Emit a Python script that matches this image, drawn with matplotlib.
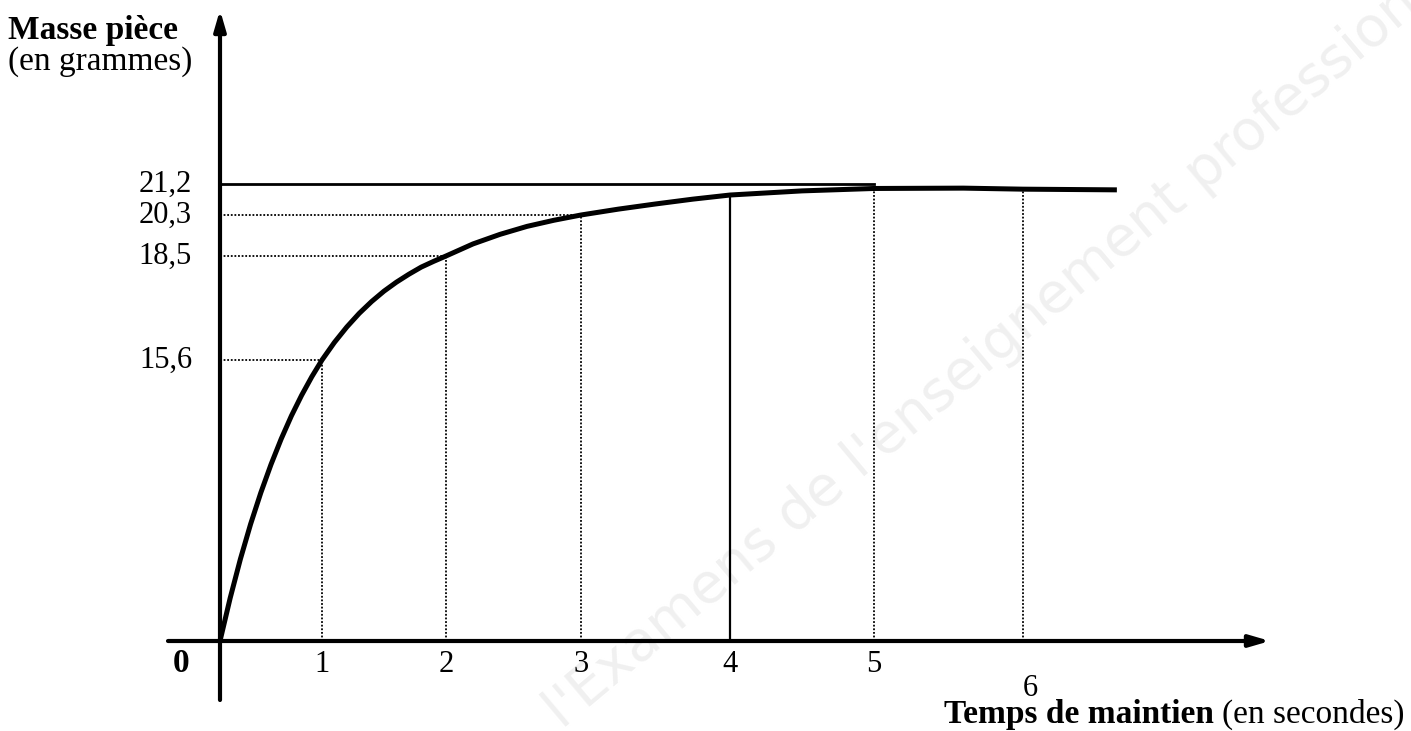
import numpy as np
import matplotlib
matplotlib.use("Agg")
import matplotlib.pyplot as plt

# ---------------- data ----------------
time_s = [0.0, 0.1, 0.2, 0.3, 0.4, 0.5, 0.6, 0.7, 0.8, 0.9, 1.0,
          1.1, 1.2, 1.3, 1.4, 1.5, 1.6, 1.7, 1.8, 1.9, 2.0,
          2.2, 2.4, 2.6, 2.8, 3.0, 3.25, 3.5, 3.75, 4.0, 4.5, 5.0, 5.6, 6.0, 6.63]
mass_g = [0.0, 2.39, 4.55, 6.49, 8.23, 9.80, 11.22, 12.50, 13.64, 14.67, 15.6,
          16.09, 16.52, 16.90, 17.23, 17.52, 17.77, 17.99, 18.19, 18.35, 18.5,
          19.03, 19.45, 19.80, 20.07, 20.3, 20.47, 20.62, 20.76, 20.88, 21.00,
          21.07, 21.08, 21.05, 21.03]
dotted_t = [1, 2, 3]
dotted_m = [15.6, 18.5, 20.3]
plateau_mass = 21.2
plateau_end_t = 5
solid_drop_t = 4
extra_drop_t = [5, 6]
x_ticks = [1, 2, 3, 4, 5, 6]
x_tick_labels = ["1", "2", "3", "4", "5", "6"]
y_ticks = [21.2, 20.3, 18.5, 15.6]
y_tick_labels = ["21,2", "20,3", "18,5", "15,6"]

# ---------------- axis calibration (hand-drawn, non-uniform graduations) ----
X_CAL_T = [-5.0, 0, 1, 2, 3, 4, 5, 6, 20]
X_CAL_P = [220 - 5 * 102, 220, 322, 446, 581, 730, 874, 1023, 1023 + 14 * 149]
Y_CAL_M = [-20.0, 0, 15.6, 18.5, 20.3, 21.2, 60]
Y_CAL_P = [90 - 20 * 18, 90, 371, 475, 516, 547, 547 + 38.8 * 21.5]


def fx(t):
    return np.interp(t, X_CAL_T, X_CAL_P)


def ifx(p):
    return np.interp(p, X_CAL_P, X_CAL_T)


def fy(m):
    return np.interp(m, Y_CAL_M, Y_CAL_P)


def ify(p):
    return np.interp(p, Y_CAL_P, Y_CAL_M)


W, H = 1411, 731
plt.rcParams["font.family"] = ["Liberation Serif", "DejaVu Serif"]

fig = plt.figure(figsize=(W / 100, H / 100), dpi=100)
ax = fig.add_axes([0, 0, 1, 1])
ax.set_xscale("function", functions=(fx, ifx))
ax.set_yscale("function", functions=(fy, ify))
ax.set_xlim(float(ifx(0)), float(ifx(W)))
ax.set_ylim(float(ify(0)), float(ify(H)))
ax.axis("off")

# faint watermark (behind everything)
ax.text(562 / W, 1 - 730 / H, "l'Examens de l'enseignement professionnel",
        transform=fig.transFigure, clip_on=False,
        rotation=40, rotation_mode="anchor", ha="left", va="baseline",
        fontsize=40, color="#f0f0f0", family=["DejaVu Sans"], zorder=0.1)

# axes with arrows
x_left, x_right = float(ifx(168)), float(ifx(1270))
y_bottom, y_top = float(ify(H - 700)), float(ify(H - 10))
arrow = dict(arrowstyle="-|>,head_length=1.2,head_width=0.35",
             lw=3, color="black", shrinkA=0, shrinkB=0)
ax.annotate("", xy=(x_right, 0), xytext=(x_left, 0), arrowprops=arrow,
            zorder=4)
ax.annotate("", xy=(0, y_top), xytext=(0, y_bottom), arrowprops=arrow,
            zorder=4)

# dotted guides
dot = dict(color="black", lw=1.3, linestyle=(0, (1, 1)), zorder=2)
for t, m in zip(dotted_t, dotted_m):
    ax.plot([0, t], [m, m], **dot)
    ax.plot([t, t], [0, m], **dot)
for t in extra_drop_t:
    ax.plot([t, t], [0, mass_g[time_s.index(t)]], **dot)

# solid plateau line and solid vertical at t=4
ax.plot([0, plateau_end_t], [plateau_mass, plateau_mass], color="black", lw=2,
        zorder=2)
ax.plot([solid_drop_t, solid_drop_t], [0, mass_g[time_s.index(solid_drop_t)]],
        color="black", lw=1.6, zorder=2)

# curve
ax.plot(time_s, mass_g, color="black", lw=3.6, solid_capstyle="butt",
        solid_joinstyle="round", zorder=5)

# tick labels
fs = 22
for t, lab in zip(x_ticks, x_tick_labels):
    ypos = 1 - 664 / H if t != 6 else 1 - 688 / H
    xoff = 0 if t != 6 else 0.05
    ax.text(t + xoff, ypos, lab, transform=ax.get_xaxis_transform(),
            ha="center", va="center", fontsize=fs, zorder=6)
for m, lab in zip(y_ticks, y_tick_labels):
    ax.text(192 / W, m, lab, transform=ax.get_yaxis_transform(),
            ha="right", va="center", fontsize=fs, zorder=6)

fig.text(181 / W, 1 - 663 / H, "0", ha="center", va="center",
         fontsize=fs + 2, fontweight="bold")

# axis titles
fst = 24
fig.text(8 / W, 1 - 31 / H, "Masse pièce", ha="left", va="center",
         fontsize=fst, fontweight="bold")
fig.text(8 / W, 1 - 62 / H, "(en grammes)", ha="left", va="center",
         fontsize=fst)
t_reg = fig.text(1405 / W, 1 - 714 / H, "(en secondes)", ha="right",
                 va="center", fontsize=fst)
ax.annotate("Temps de maintien ", xy=(0, 0.5), xycoords=t_reg,
            ha="right", va="center", fontsize=fst, fontweight="bold",
            annotation_clip=False)

fig.savefig("out.png", dpi=100)
